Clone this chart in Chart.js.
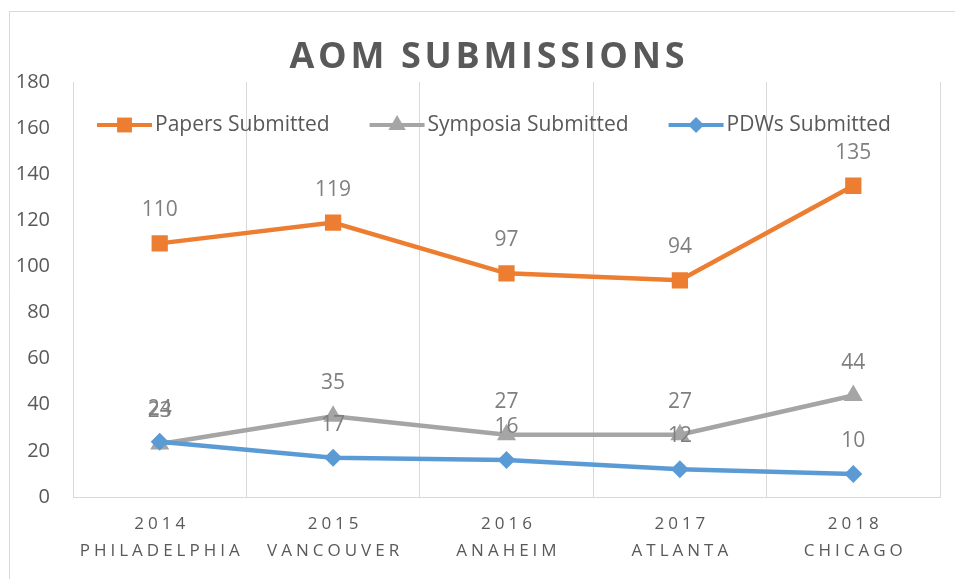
<!DOCTYPE html>
<html lang="en">
<head>
    <meta charset="UTF-8">
    <title>AOM Submissions</title>
    <script src="https://cdn.jsdelivr.net/npm/chart.js"></script>
    <style>
        body {
            margin: 0;
            background-color: #ffffff;
            overflow: hidden;
        }
        .chart-container {
            position: relative;
            width: 955px;
            height: 579px;
        }
    </style>
</head>
<body>
    <div class="chart-container">
        <canvas id="aomChart" width="955" height="579"></canvas>
    </div>

    <script>
        const years = ['2014', '2015', '2016', '2017', '2018'];
        const cities = ['PHILADELPHIA', 'VANCOUVER', 'ANAHEIM', 'ATLANTA', 'CHICAGO'];
        const papersSubmitted = [110, 119, 97, 94, 135];
        const symposiaSubmitted = [23, 35, 27, 27, 44];
        const pdwsSubmitted = [24, 17, 16, 12, 10];

        const FONT = "'Open Sans', sans-serif";
        const TEXT_DARK = '#595959';
        const TEXT_LABEL = '#7f7f7f';
        const GRID = '#d9d9d9';

        // frame, title, legend, two-line category labels and point labels
        const decorations = {
            id: 'decorations',
            beforeDraw(chart) {
                const ctx = chart.ctx;
                ctx.save();
                ctx.strokeStyle = GRID;
                ctx.lineWidth = 1;
                ctx.beginPath();
                ctx.moveTo(9.5, chart.height);
                ctx.lineTo(9.5, 11.5);
                ctx.lineTo(chart.width, 11.5);
                ctx.stroke();
                ctx.restore();
            },
            afterDraw(chart) {
                const ctx = chart.ctx;
                const x = chart.scales.x;

                // title
                ctx.save();
                ctx.font = 'bold 36px ' + FONT;
                ctx.fillStyle = TEXT_DARK;
                ctx.textBaseline = 'middle';
                drawSpaced(ctx, 'AOM SUBMISSIONS', 487, 58, 3.7);
                ctx.restore();

                // category labels
                ctx.save();
                ctx.font = '17px ' + FONT;
                ctx.fillStyle = TEXT_DARK;
                ctx.textBaseline = 'middle';
                years.forEach((y, i) => {
                    const px = x.getPixelForValue(i);
                    drawSpaced(ctx, y, px, 524, 4);
                    drawSpaced(ctx, cities[i], px, 551, 4);
                });
                ctx.restore();

                // legend
                ctx.save();
                ctx.font = '21px ' + FONT;
                ctx.textBaseline = 'middle';
                let lx = 97;
                const ly = 125;
                chart.data.datasets.forEach(ds => {
                    ctx.strokeStyle = ds.borderColor;
                    ctx.lineWidth = 4;
                    ctx.beginPath();
                    ctx.moveTo(lx, ly);
                    ctx.lineTo(lx + 55, ly);
                    ctx.stroke();
                    ctx.fillStyle = ds.borderColor;
                    drawMarker(ctx, ds.pointStyle, ds.legendRadius, lx + 27.5, ly);
                    ctx.fillStyle = TEXT_DARK;
                    ctx.fillText(ds.label, lx + 58, ly);
                    lx += 58 + ctx.measureText(ds.label).width + 40;
                });
                ctx.restore();

                // data labels
                ctx.save();
                ctx.font = '21px ' + FONT;
                ctx.fillStyle = TEXT_LABEL;
                ctx.textAlign = 'center';
                ctx.textBaseline = 'middle';
                chart.data.datasets.forEach((ds, di) => {
                    const meta = chart.getDatasetMeta(di);
                    meta.data.forEach((pt, i) => {
                        ctx.fillText(String(ds.data[i]), pt.x, pt.y - 33);
                    });
                });
                ctx.restore();
            }
        };

        function drawSpaced(ctx, text, cx, cy, spacing) {
            ctx.letterSpacing = spacing + 'px';
            const w = ctx.measureText(text).width - spacing;
            ctx.textAlign = 'left';
            ctx.fillText(text, cx - w / 2, cy);
            ctx.letterSpacing = '0px';
        }

        function drawMarker(ctx, style, r, x, y) {
            ctx.beginPath();
            if (style === 'rect') {
                const s = r * Math.SQRT1_2;
                ctx.rect(x - s, y - s, 2 * s, 2 * s);
            } else if (style === 'triangle') {
                ctx.moveTo(x, y - r);
                ctx.lineTo(x + r * 0.866, y + r * 0.5);
                ctx.lineTo(x - r * 0.866, y + r * 0.5);
                ctx.closePath();
            } else {
                ctx.moveTo(x, y - r);
                ctx.lineTo(x + r, y);
                ctx.lineTo(x, y + r);
                ctx.lineTo(x - r, y);
                ctx.closePath();
            }
            ctx.fill();
        }

        const ctx = document.getElementById('aomChart').getContext('2d');
        new Chart(ctx, {
            type: 'line',
            data: {
                labels: years,
                datasets: [{
                    label: 'Papers Submitted',
                    data: papersSubmitted,
                    borderColor: '#ED7D31',
                    backgroundColor: '#ED7D31',
                    pointStyle: 'rect',
                    pointRadius: 11.5,
                    legendRadius: 10.5,
                    order: 3
                }, {
                    label: 'Symposia Submitted',
                    data: symposiaSubmitted,
                    borderColor: '#A5A5A5',
                    backgroundColor: '#A5A5A5',
                    pointStyle: 'triangle',
                    pointRadius: 11,
                    legendRadius: 10,
                    order: 2
                }, {
                    label: 'PDWs Submitted',
                    data: pdwsSubmitted,
                    borderColor: '#5B9BD5',
                    backgroundColor: '#5B9BD5',
                    pointStyle: 'rectRot',
                    pointRadius: 9,
                    legendRadius: 8,
                    order: 1
                }].map(ds => Object.assign(ds, {
                    borderWidth: 4.5,
                    pointBorderWidth: 0,
                    pointHoverRadius: ds.pointRadius,
                    tension: 0,
                    fill: false
                }))
            },
            options: {
                responsive: false,
                maintainAspectRatio: false,
                animation: false,
                layout: {
                    padding: { top: 82, right: 15, bottom: 0, left: 0 }
                },
                plugins: {
                    legend: { display: false },
                    title: { display: false },
                    tooltip: { enabled: false }
                },
                scales: {
                    x: {
                        offset: true,
                        grid: {
                            offset: true,
                            color: GRID,
                            lineWidth: 1,
                            drawTicks: false
                        },
                        border: { color: GRID, width: 1 },
                        ticks: { display: false },
                        afterFit(scale) { scale.height = 82; }
                    },
                    y: {
                        min: 0,
                        max: 180,
                        ticks: {
                            stepSize: 20,
                            color: TEXT_DARK,
                            padding: 23,
                            font: { family: FONT, size: 20 }
                        },
                        grid: { display: false, drawTicks: false },
                        border: { display: false },
                        afterFit(scale) { scale.width = 73; }
                    }
                }
            },
            plugins: [decorations]
        });
    </script>
</body>
</html>
